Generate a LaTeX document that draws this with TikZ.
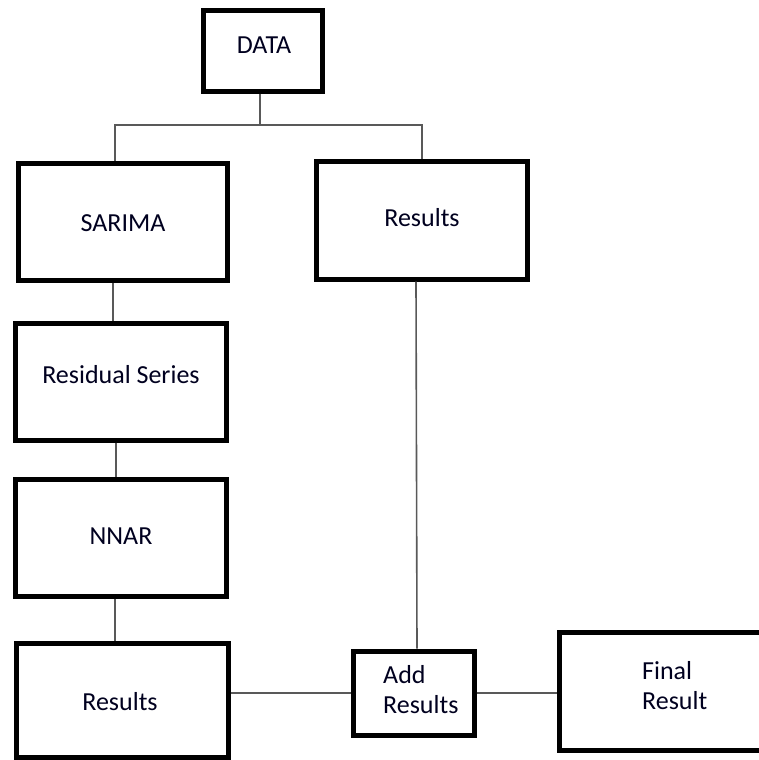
\documentclass[tikz,border=0pt]{standalone}
\usepackage{fontspec}
\setmainfont{Carlito}
\begin{document}
\begin{tikzpicture}[x=1pt,y=-1pt,
  box/.style={draw=black, line width=5pt, rectangle, inner sep=0pt, fill=white},
  conn/.style={draw=black!65, line width=1.6pt},
  lbl/.style={font=\fontsize{26}{30}\selectfont, text=black!88!blue, inner sep=0pt}]
\useasboundingbox (0,0) rectangle (759,760);
\begin{scope}
\clip (0,0) rectangle (759,760);
% boxes
\node[box, minimum width=119pt, minimum height=80pt] (data) at (262.5,51) {};
\node[box, minimum width=209pt, minimum height=117pt] (sarima) at (122.5,221.5) {};
\node[box, minimum width=211pt, minimum height=118pt] (res1) at (421.5,220) {};
\node[box, minimum width=211pt, minimum height=117pt] (resid) at (120.5,381.5) {};
\node[box, minimum width=211pt, minimum height=117pt] (nnar) at (120.5,537.5) {};
\node[box, minimum width=212pt, minimum height=114pt] (res2) at (122,700) {};
\node[box, minimum width=121pt, minimum height=84pt] (add) at (413.5,693) {};
\node[box, minimum width=211pt, minimum height=118pt] (final) at (664.5,691) {};
% texts
\node[lbl] (tdata) at (264,45) {DATA};
\node[lbl] (tsarima) at (123,223) {SARIMA};
\node[lbl] (tres1) at (422,218) {Results};
\node[lbl] (tresid) at (121,375) {Residual Series};
\node[lbl] (tnnar) at (121,536) {NNAR};
\node[lbl] (tres2) at (120,702) {Results};
\node[lbl, align=left, anchor=west] (tadd) at (383,690) {Add\\Results};
\node[lbl, align=left, anchor=west] (tfinal) at (642,686) {Final\\Result};
% connectors
\coordinate (split) at (260,125);
\draw[conn] ([xshift=-2.5pt]data.south) -- (split);
\draw[conn] ([xshift=-7.5pt]sarima.north) |- (split);
\draw[conn] (split) -| ([xshift=0.5pt]res1.north);
\draw[conn] ([xshift=-9.5pt]sarima.south) -- ([xshift=-7.5pt]resid.north);
\draw[conn] ([xshift=-4.5pt]resid.south) -- ([xshift=-4.5pt]nnar.south |- nnar.north);
\draw[conn] ([xshift=-5.5pt]nnar.south) -- ([xshift=-7pt]res2.north);
\draw[conn] ([xshift=-5.5pt]res1.south) -- ([xshift=3.5pt]add.north);
\draw[conn] (res2.east |- add.west) -- (add.west);
\draw[conn] (add.east) -- (final.west |- add.east);
\end{scope}
\end{tikzpicture}
\end{document}
